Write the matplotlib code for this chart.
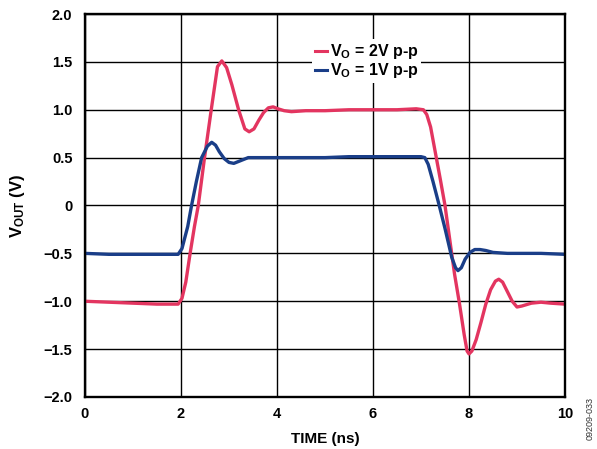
import matplotlib
matplotlib.use("Agg")
import matplotlib.pyplot as plt
from matplotlib.lines import Line2D

plt.rcParams['font.family'] = ['Liberation Sans', 'DejaVu Sans']
plt.rcParams['mathtext.default'] = 'regular'

# Data
t_red = [0, 0.5, 1.0, 1.5, 1.94, 2.02, 2.1, 2.19, 2.28, 2.36, 2.49, 2.63, 2.76, 2.85, 2.95, 3.06, 3.2, 3.33, 3.42,
         3.52, 3.62, 3.72, 3.82, 3.92, 4.02, 4.15, 4.3, 4.6, 5.0, 5.5, 6.0, 6.5, 6.9, 7.05, 7.12, 7.2, 7.3, 7.4,
         7.5, 7.6, 7.7, 7.8, 7.9, 7.96, 8.0, 8.06, 8.15, 8.25, 8.35, 8.45, 8.55, 8.62, 8.7, 8.8, 8.9, 9.0, 9.1,
         9.3, 9.5, 9.7, 10.0]
v_red = [-1.00, -1.01, -1.02, -1.03, -1.03, -0.97, -0.80, -0.50, -0.22, 0.00, 0.50, 1.00, 1.45, 1.51, 1.44, 1.26,
         1.00, 0.80, 0.77, 0.80, 0.89, 0.97, 1.02, 1.03, 1.01, 0.99, 0.98, 0.99, 0.99, 1.00, 1.00, 1.00, 1.01, 1.00,
         0.95, 0.82, 0.55, 0.28, 0.00, -0.36, -0.72, -1.02, -1.35, -1.52, -1.55, -1.52, -1.40, -1.22, -1.03, -0.88,
         -0.79, -0.77, -0.80, -0.90, -1.00, -1.06, -1.05, -1.02, -1.01, -1.02, -1.03]

t_blue = [0, 0.5, 1.0, 1.5, 1.94, 2.02, 2.14, 2.22, 2.32, 2.43, 2.55, 2.64, 2.72, 2.8, 2.9, 3.0, 3.1, 3.25, 3.4,
          3.8, 4.5, 5.0, 5.5, 6.0, 6.5, 7.0, 7.08, 7.15, 7.25, 7.38, 7.5, 7.64, 7.72, 7.77, 7.84, 7.92, 8.02,
          8.12, 8.23, 8.35, 8.5, 8.8, 9.5, 10.0]
v_blue = [-0.50, -0.51, -0.51, -0.51, -0.51, -0.45, -0.22, 0.00, 0.25, 0.50, 0.62, 0.66, 0.63, 0.56, 0.49, 0.45,
          0.44, 0.47, 0.50, 0.50, 0.50, 0.50, 0.51, 0.51, 0.51, 0.51, 0.50, 0.43, 0.25, 0.00, -0.24, -0.54, -0.65,
          -0.68, -0.65, -0.56, -0.49, -0.46, -0.46, -0.47, -0.49, -0.50, -0.50, -0.51]

x_ticks = [0, 2, 4, 6, 8, 10]
x_labels = ['0', '2', '4', '6', '8', '10']
y_ticks = [2.0, 1.5, 1.0, 0.5, 0, -0.5, -1.0, -1.5, -2.0]
y_labels = ['2.0', '1.5', '1.0', '0.5', '0', '\u22120.5', '\u22121.0', '\u22121.5', '\u22122.0']

RED = '#E33560'
BLUE = '#1A3E88'

fig = plt.figure(figsize=(5.97, 4.49), dpi=100)
ax = fig.add_axes([85/597, 1-397/449, 480/597, 383/449])

ax.plot(t_red, v_red, color=RED, lw=2.4, zorder=3)
ax.plot(t_blue, v_blue, color=BLUE, lw=2.4, zorder=3)

ax.set_xlim(0, 10)
ax.set_ylim(-2.0, 2.0)
ax.set_xticks(x_ticks)
ax.set_xticklabels(x_labels)
ax.set_yticks(y_ticks)
ax.set_yticklabels(y_labels)
ax.tick_params(axis='y', length=0, pad=9, labelsize=10.5)
ax.tick_params(axis='x', length=0, pad=7, labelsize=10.5)
for lab in ax.get_xticklabels() + ax.get_yticklabels():
    lab.set_fontweight('bold')
ax.grid(True, color='black', lw=1.0)
ax.set_axisbelow(True)
for s in ax.spines.values():
    s.set_linewidth(1.7)
    s.set_zorder(4)

ax.set_xlabel('TIME (ns)', fontsize=11, fontweight='bold', labelpad=8)
ax.set_ylabel('V$_{OUT}$ (V)', fontsize=12, fontweight='bold', labelpad=12)

handles = [Line2D([0], [0], color=RED, lw=2.2), Line2D([0], [0], color=BLUE, lw=2.2)]
leg = ax.legend(handles, ['V$_{O}$ = 2V p-p', 'V$_{O}$ = 1V p-p'],
                loc='upper left', bbox_to_anchor=((312-85)/480, (397-39)/383),
                frameon=True, fancybox=False, edgecolor='none', framealpha=1.0,
                handlelength=0.75, handletextpad=0.15, borderpad=0.2, labelspacing=0.0,
                borderaxespad=0, prop={'weight': 'bold', 'size': 11.5})

fig.text(590/597, 1-418/449, '09209-033', rotation=90, fontsize=6.5, color='#333333',
         ha='center', va='center')

fig.savefig('out.png', dpi=100)
